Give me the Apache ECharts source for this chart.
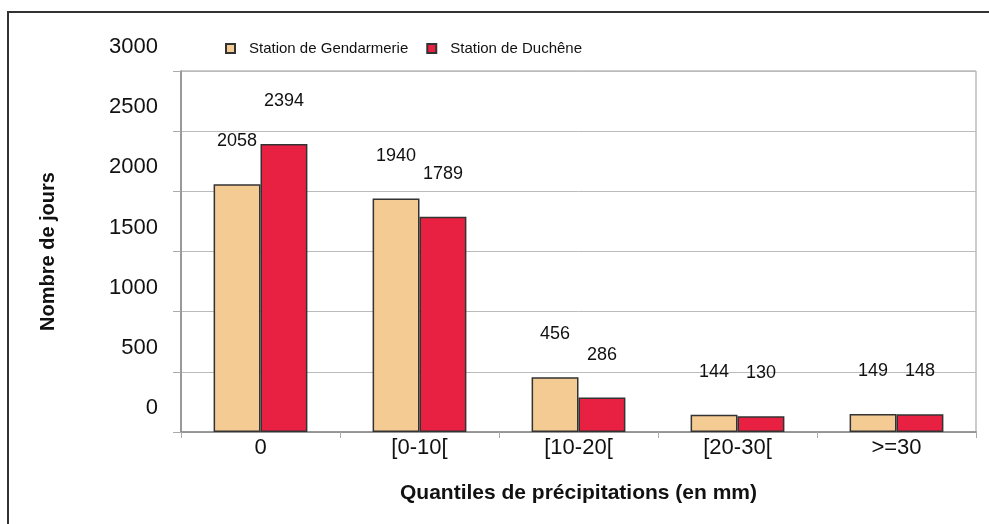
<!DOCTYPE html>
<html>
<head>
<meta charset="utf-8">
<script src="https://cdn.jsdelivr.net/npm/echarts@6/dist/echarts.min.js"></script>
<style>
  html, body { margin: 0; padding: 0; background: #fff; }
  #main { width: 989px; height: 524px; }
</style>
</head>
<body>
<div id="main"></div>
<script>
// données
var categories = ['0', '[0-10[', '[10-20[', '[20-30[', '>=30'];
var gendarmerie = [2058, 1940, 456, 144, 149];
var duchene = [2394, 1789, 286, 130, 148];
var seriesNames = ['Station de Gendarmerie', 'Station de Duchêne'];

var font = "'Liberation Sans', Arial, sans-serif";

var chart = echarts.init(document.getElementById('main'));

var option = {
    backgroundColor: '#fff',
    animation: false,
    textStyle: { fontFamily: font, color: '#111' },
    legend: {
        left: 220,
        top: 36,
        itemWidth: 9,
        itemHeight: 9,
        itemGap: 18,
        icon: 'rect',
        textStyle: { fontSize: 15, color: '#111', fontFamily: font, padding: [0, 0, 0, 9] },
        data: seriesNames
    },
    grid: {
        left: 181,
        right: 13,
        top: 71,
        bottom: 92,
        show: true,
        borderColor: '#999',
        borderWidth: 1
    },
    xAxis: {
        type: 'category',
        data: categories,
        name: 'Quantiles de précipitations (en mm)',
        nameLocation: 'middle',
        nameGap: 51,
        nameTextStyle: { fontSize: 21, fontWeight: 'bold', color: '#111', fontFamily: font },
        axisLine: { lineStyle: { color: '#888', width: 1.5 } },
        axisTick: { show: true, length: 6, lineStyle: { color: '#aaa' } },
        axisLabel: { fontSize: 22, color: '#111', margin: 5, fontFamily: font }
    },
    yAxis: {
        type: 'value',
        min: 0,
        max: 3000,
        interval: 500,
        name: 'Nombre de jours',
        nameLocation: 'middle',
        nameGap: 123,
        nameTextStyle: { fontSize: 20, fontWeight: 'bold', color: '#111', fontFamily: font },
        axisLine: { show: true, lineStyle: { color: '#888', width: 1.5 } },
        axisTick: { show: true, length: 8, lineStyle: { color: '#aaa' } },
        splitLine: { lineStyle: { color: '#bbb' } },
        axisLabel: {
            fontSize: 22,
            color: '#111',
            margin: 23,
            // les libellés sont décalés vers le haut dans l'original
            lineHeight: 48,
            verticalAlign: 'bottom',
            showMinLabel: true,
            showMaxLabel: true,
            formatter: function (v) { return String(v); },
            fontFamily: font
        }
    },
    series: [
        {
            name: seriesNames[0],
            type: 'bar',
            data: gendarmerie,
            barGap: '0%',
            barCategoryGap: '41%',
            itemStyle: { color: '#F5CB94', borderColor: '#333', borderWidth: 1.5 },
            label: { show: true, position: 'top', distance: 34, fontSize: 18, color: '#111', fontFamily: font }
        },
        {
            name: seriesNames[1],
            type: 'bar',
            data: duchene,
            itemStyle: { color: '#E82041', borderColor: '#333', borderWidth: 1.5 },
            label: { show: true, position: 'top', distance: 34, fontSize: 18, color: '#111', fontFamily: font }
        }
    ],
    graphic: [
        // cadre extérieur (haut et gauche)
        { type: 'line', shape: { x1: 8, y1: 12, x2: 8, y2: 524 }, style: { stroke: '#333', lineWidth: 2 } },
        { type: 'line', shape: { x1: 7, y1: 12, x2: 989, y2: 12 }, style: { stroke: '#333', lineWidth: 2 } }
    ]
};

chart.setOption(option);
</script>
</body>
</html>
